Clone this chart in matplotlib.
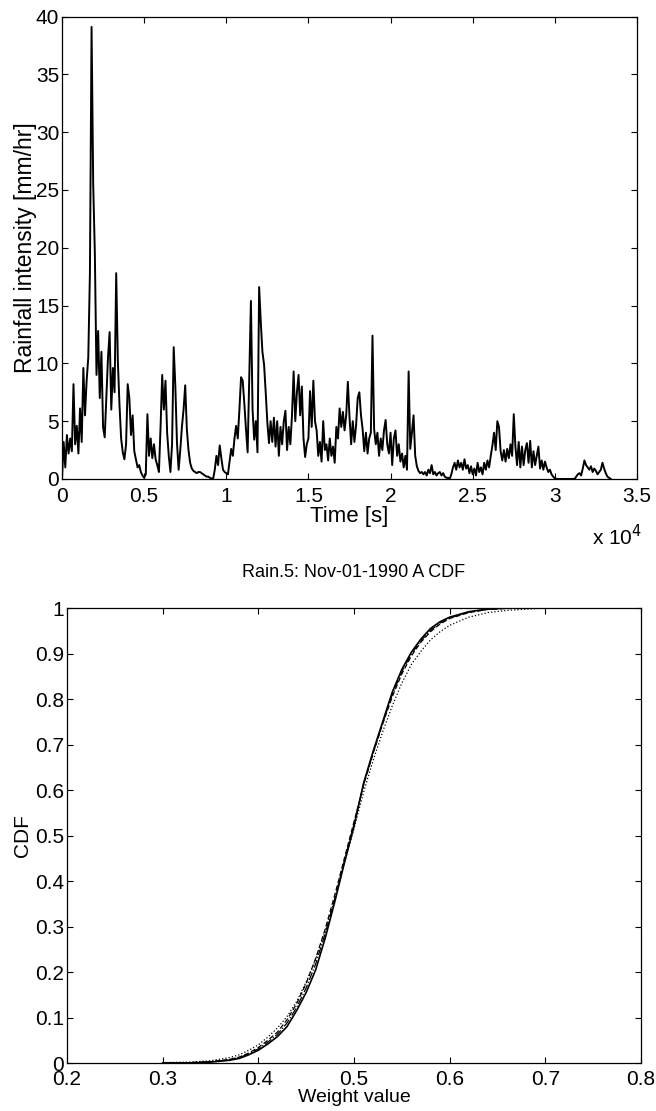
import numpy as np
import matplotlib
matplotlib.use("Agg")
import matplotlib.pyplot as plt

plt.rcParams['font.family'] = ['Liberation Sans', 'DejaVu Sans']

# rainfall intensity [mm/hr], one reading every 100 s
rain = [
    0.0, 3.2, 1.0, 3.8, 2.2, 3.5, 2.4, 8.2, 3.0, 4.6,
    2.2, 6.1, 3.2, 9.6, 5.5, 8.5, 10.5, 17.8, 39.1, 25.5,
    19.5, 9.0, 12.8, 7.0, 11.0, 4.5, 3.6, 7.0, 10.5, 12.7,
    6.0, 9.6, 7.5, 17.8, 10.2, 6.4, 3.5, 2.3, 1.7, 3.0,
    8.2, 7.0, 3.8, 5.5, 2.4, 1.7, 1.0, 1.2, 0.6, 0.3,
    0.1, 0.4, 5.6, 2.0, 3.5, 1.8, 3.0, 1.7, 1.2, 0.6,
    4.5, 9.0, 6.0, 8.5, 4.0, 2.0, 0.6, 3.0, 11.4, 8.0,
    3.1, 0.8, 2.5, 4.5, 6.0, 8.1, 4.3, 2.5, 1.4, 0.9,
    0.7, 0.6, 0.5, 0.6, 0.6, 0.5, 0.4, 0.3, 0.2, 0.2,
    0.1, 0.05, 0.0, 0.8, 2.0, 1.2, 2.9, 1.8, 0.8, 0.6,
    0.5, 0.4, 1.5, 2.6, 2.0, 3.5, 4.6, 3.5, 6.0, 8.8,
    8.5, 6.5, 4.3, 2.3, 9.0, 15.4, 6.0, 3.4, 5.0, 2.3,
    16.6, 13.6, 11.0, 9.9, 7.5, 4.9, 3.1, 5.0, 3.2, 5.3,
    2.8, 5.0, 2.0, 4.5, 3.0, 5.0, 5.9, 2.5, 4.5, 3.0,
    5.5, 9.3, 5.0, 7.5, 9.0, 5.5, 8.0, 3.5, 1.9, 3.0,
    3.5, 7.6, 4.5, 8.5, 5.0, 4.2, 2.0, 3.2, 1.5, 5.0,
    2.5, 3.0, 1.6, 3.5, 2.0, 2.8, 1.4, 4.5, 3.5, 6.1,
    4.5, 5.8, 4.2, 5.5, 8.4, 5.4, 3.0, 5.0, 3.2, 4.6,
    7.0, 7.5, 5.5, 4.3, 2.4, 4.0, 2.2, 3.5, 4.0, 12.4,
    4.3, 3.0, 4.0, 2.0, 3.5, 2.5, 4.2, 5.1, 3.0, 2.2,
    4.0, 1.2, 3.5, 4.2, 2.0, 3.0, 1.5, 2.2, 1.0, 2.0,
    0.8, 9.3, 2.6, 4.0, 5.5, 2.0, 1.1, 0.7, 0.5, 0.6,
    0.4, 0.6, 0.3, 0.8, 0.5, 1.2, 0.4, 0.6, 0.3, 0.5,
    0.6, 0.3, 0.5, 0.2, 0.1, 0.1, 0.0, 0.4, 1.0, 1.4,
    0.8, 1.6, 1.0, 1.4, 0.8, 1.7, 0.9, 1.2, 0.5, 1.1,
    0.4, 0.9, 0.3, 1.4, 0.6, 1.0, 0.4, 1.4, 0.8, 1.6,
    1.0, 2.0, 2.9, 4.0, 2.5, 5.0, 4.5, 2.4, 1.6, 2.5,
    1.5, 2.6, 1.8, 3.0, 2.0, 5.6, 2.8, 1.2, 3.2, 1.0,
    2.8, 1.2, 2.5, 3.1, 1.4, 3.3, 1.0, 2.4, 1.2, 2.0,
    2.8, 0.9, 1.6, 0.8, 1.5, 1.0, 0.6, 0.8, 0.4, 0.2,
    0.05, 0.0, 0.0, 0.0, 0.0, 0.0, 0.0, 0.0, 0.0, 0.0,
    0.0, 0.0, 0.0, 0.2, 0.4, 0.5, 0.3, 0.9, 1.6, 1.2,
    1.0, 0.8, 1.1, 0.6, 0.9, 0.7, 0.4, 0.6, 0.8, 1.4,
    0.9, 0.5, 0.2, 0.1, 0.0,
]
time_s = np.arange(len(rain)) * 100.0

time_ticks = [0, 5000, 10000, 15000, 20000, 25000, 30000, 35000]
time_labels = ['0', '0.5', '1', '1.5', '2', '2.5', '3', '3.5']
rain_ticks = [0, 5, 10, 15, 20, 25, 30, 35, 40]

# CDF of the weights, four estimates
w = [0.30, 0.33, 0.35, 0.37, 0.38, 0.39, 0.40, 0.41, 0.42, 0.43, 0.44,
     0.45, 0.46, 0.47, 0.48, 0.49, 0.50, 0.51, 0.52, 0.53, 0.54, 0.55,
     0.56, 0.57, 0.58, 0.59, 0.60, 0.62, 0.64, 0.66, 0.70]
cdf_solid = [0.0, 0.0005, 0.002, 0.006, 0.010, 0.018, 0.028, 0.042, 0.058,
             0.080, 0.115, 0.155, 0.205, 0.275, 0.355, 0.440, 0.520, 0.615,
             0.685, 0.750, 0.815, 0.865, 0.903, 0.932, 0.955, 0.970, 0.980,
             0.992, 0.998, 1.0, 1.0]
cdf_dashed = [0.0, 0.001, 0.003, 0.008, 0.013, 0.022, 0.034, 0.050, 0.068,
              0.095, 0.130, 0.175, 0.230, 0.295, 0.370, 0.450, 0.530, 0.610,
              0.680, 0.745, 0.805, 0.855, 0.895, 0.925, 0.948, 0.965, 0.977,
              0.990, 0.997, 0.999, 1.0]
cdf_dotted = [0.001, 0.002, 0.005, 0.012, 0.018, 0.028, 0.040, 0.057, 0.077,
              0.102, 0.135, 0.178, 0.228, 0.290, 0.360, 0.440, 0.515, 0.595,
              0.665, 0.728, 0.785, 0.835, 0.876, 0.905, 0.930, 0.948, 0.962,
              0.980, 0.990, 0.995, 1.0]
cdf_dashdot = [0.0, 0.0008, 0.0025, 0.007, 0.012, 0.020, 0.031, 0.046, 0.063,
               0.088, 0.122, 0.165, 0.218, 0.285, 0.362, 0.445, 0.525, 0.612,
               0.682, 0.747, 0.810, 0.860, 0.899, 0.928, 0.951, 0.967, 0.978,
               0.991, 0.997, 1.0, 1.0]

w_ticks = [0.2, 0.3, 0.4, 0.5, 0.6, 0.7, 0.8]
w_labels = ['0.2', '0.3', '0.4', '0.5', '0.6', '0.7', '0.8']
cdf_ticks = [0, 0.1, 0.2, 0.3, 0.4, 0.5, 0.6, 0.7, 0.8, 0.9, 1]
cdf_labels = ['0', '0.1', '0.2', '0.3', '0.4', '0.5', '0.6', '0.7', '0.8', '0.9', '1']

fig = plt.figure(figsize=(6.56, 11.11), dpi=100)

def matlab_style(ax, xpad):
    ax.tick_params(direction='in', top=True, right=True, length=4,
                   width=0.8, labelsize=15, pad=2)
    ax.tick_params(axis='x', pad=xpad)
    for s in ax.spines.values():
        s.set_linewidth(0.9)

# top: rainfall time series
ax1 = fig.add_axes([0.0945, 0.5689, 0.8765, 0.4162])
ax1.plot(time_s, rain, color='black', lw=1.4)
ax1.set_xlim(0, 35000)
ax1.set_ylim(0, 40)
ax1.set_xticks(time_ticks)
ax1.set_xticklabels(time_labels)
ax1.set_yticks(rain_ticks)
matlab_style(ax1, 6)
ax1.set_xlabel('Time [s]', fontsize=16, labelpad=0)
ax1.set_ylabel('Rainfall intensity [mm/hr]', fontsize=16.5, labelpad=-1)
fig.text(0.979, 0.5166, r'x 10$^4$', fontsize=15, ha='right', va='center')

# bottom: CDF curves
ax2 = fig.add_axes([0.1021, 0.0432, 0.875, 0.4095])
ax2.plot(w, cdf_solid, color='black', lw=1.2, ls='-')
ax2.plot(w, cdf_dashed, color='black', lw=0.9, ls='--', dashes=(4, 2))
ax2.plot(w, cdf_dotted, color='black', lw=0.9, ls=':')
ax2.plot(w, cdf_dashdot, color='black', lw=0.9, ls='-.')
ax2.set_xlim(0.2, 0.8)
ax2.set_ylim(0, 1)
ax2.set_xticks(w_ticks)
ax2.set_xticklabels(w_labels)
ax2.set_yticks(cdf_ticks)
ax2.set_yticklabels(cdf_labels)
matlab_style(ax2, 5)
ax2.set_xlabel('Weight value', fontsize=14, labelpad=0)
ax2.set_ylabel('CDF', fontsize=15, labelpad=2)
ax2.set_title('Rain.5: Nov-01-1990 A CDF', fontsize=13, pad=22)

fig.savefig('out.png', dpi=100)
